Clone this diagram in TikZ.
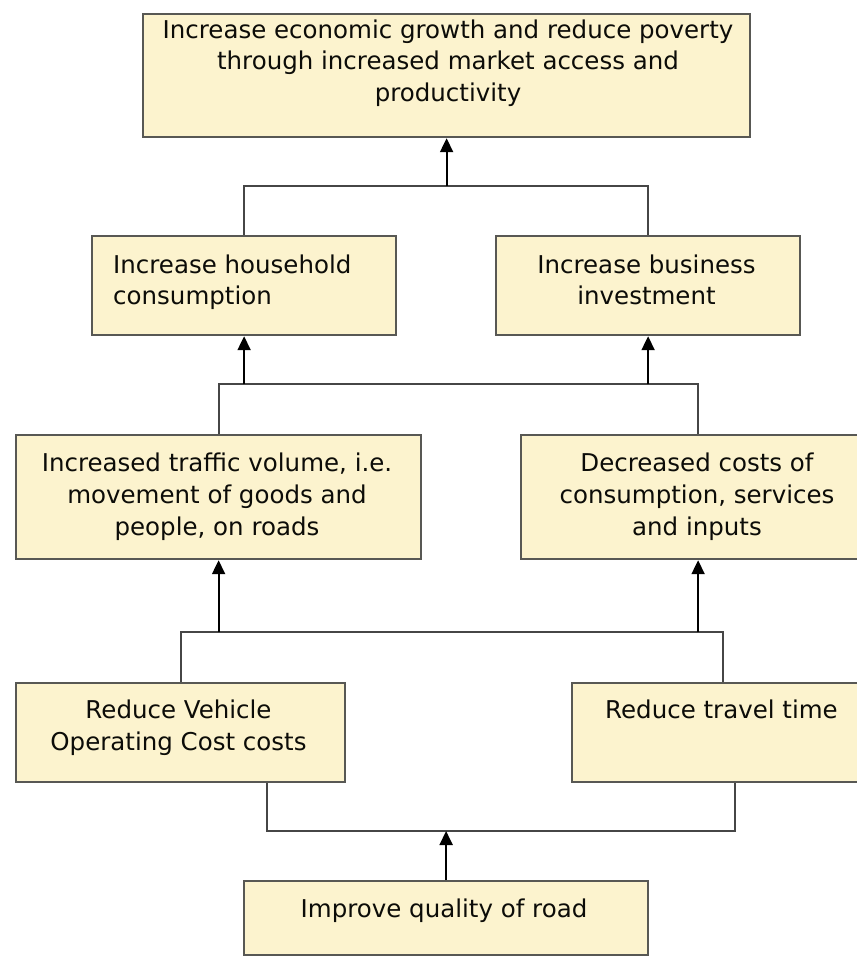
\documentclass[tikz,border=0pt]{standalone}
\usepackage{fontspec}
\setmainfont{DejaVu Sans}
\usetikzlibrary{arrows.meta,calc}
\definecolor{boxfill}{RGB}{252,243,206}
\definecolor{boxline}{RGB}{88,88,84}
\definecolor{connline}{RGB}{70,70,70}
\definecolor{txtcol}{RGB}{12,12,8}
\begin{document}
\begin{tikzpicture}[x=1pt,y=-1pt,
  goalbox/.style={draw=boxline, fill=boxfill, line width=2.2pt, rectangle, inner sep=0pt, anchor=north west},
  txt/.style={inner sep=0pt, text=txtcol, font=\fontsize{24.5}{31.7}\selectfont, align=center},
  conn/.style={draw=connline, line width=2pt},
  arr/.style={draw=black, line width=2pt, -{Triangle[length=14pt,width=13pt]}}
]
\useasboundingbox (0,0) rectangle (856,957);

% boxes
\node[goalbox, minimum width=607pt, minimum height=123pt] (top) at (142,13) {};
\node[goalbox, minimum width=304pt, minimum height=99pt] (hh) at (91,235) {};
\node[goalbox, minimum width=304pt, minimum height=99pt] (bi) at (495,235) {};
\node[goalbox, minimum width=405pt, minimum height=124pt] (tv) at (15,434) {};
\node[goalbox, minimum width=354pt, minimum height=124pt] (dc) at (520,434) {};
\node[goalbox, minimum width=329pt, minimum height=99pt] (vo) at (15,682) {};
\node[goalbox, minimum width=301pt, minimum height=99pt] (tt) at (571,682) {};
\node[goalbox, minimum width=404pt, minimum height=74pt] (bt) at (243,880) {};

% texts
\node[txt, anchor=north] (topT) at (448,19.4) {Increase economic growth and reduce poverty\\through increased market access and\\productivity};
\node[txt, anchor=north west, align=left] (hhT) at (113,254.4) {Increase household\\consumption};
\node[txt, anchor=north] (biT) at (646.5,254.4) {Increase business\\investment};
\node[txt, anchor=north] (tvT) at (217,452.9) {Increased traffic volume, i.e.\\movement of goods and\\people, on roads};
\node[txt, anchor=north] (dcT) at (697,452.9) {Decreased costs of\\consumption, services\\and inputs};
\node[txt, anchor=north] (voT) at (178.5,700.1) {Reduce Vehicle\\Operating Cost costs};
\node[txt, anchor=north] (ttT) at (721.5,700.1) {Reduce travel time};
\node[txt, anchor=north] (btT) at (444,898.7) {Improve quality of road};

% junction coordinates
\coordinate (j1) at (444,186);
\coordinate (j2) at (0,384);
\coordinate (j3) at (0,632);
\coordinate (j4a) at (267,831);
\coordinate (j4b) at (735,831);

% level 1
\draw[conn] (hh.north) -- (hh.north |- j1) -- (bi.north |- j1) -- (bi.north);
\draw[arr] (top.south |- j1) -- (top.south);
% level 2
\draw[conn] (tv.north) -- (tv.north |- j2) -- (dc.north |- j2) -- (dc.north);
\draw[arr] (hh.south |- j2) -- (hh.south);
\draw[arr] (bi.south |- j2) -- (bi.south);
% level 3
\draw[conn] (vo.north) -- (vo.north |- j3) -- (tt.north |- j3) -- (tt.north);
\draw[arr] (tv.south |- j3) -- (tv.south);
\draw[arr] (dc.south |- j3) -- (dc.south);
% level 4
\draw[conn] (vo.south -| j4a) -- (j4a) -- (j4b) -- (tt.south -| j4b);
\draw[arr] (bt.north) -- (bt.north |- j4a);
\end{tikzpicture}
\end{document}
